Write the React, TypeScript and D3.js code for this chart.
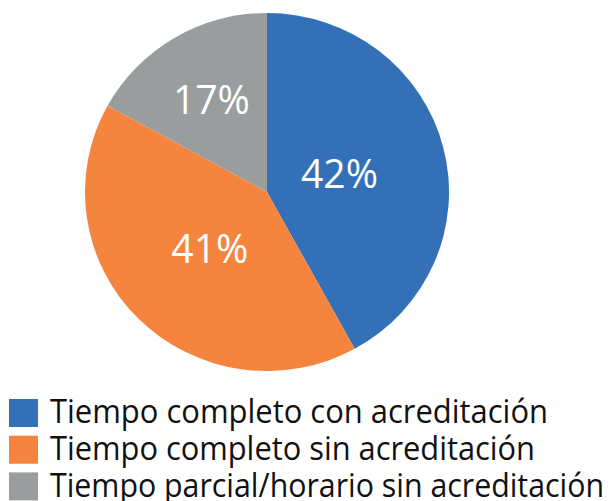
import React from "react";
import * as d3 from "d3";

const categories = [
  "Tiempo completo con acreditación",
  "Tiempo completo sin acreditación",
  "Tiempo parcial/horario sin acreditación",
];
const values = [42, 41, 17];
const colors = ["#3470B7", "#F5843F", "#9A9D9E"];
const labelRadius = [74, 80, 108];
const legendWidths = [498, 485, 554];

export default function App() {
  const W = 613;
  const H = 501;
  const cx = 267;
  const cy = 192;
  const r = 180;
  const sx = 182 / 180;
  const sy = 179 / 180;

  const pie = d3.pie<number>().sort(null).value((d) => d)(values);
  const arc = d3.arc<d3.PieArcDatum<number>>().innerRadius(0).outerRadius(r);

  return (
    <svg
      width={W}
      height={H}
      style={{ position: "absolute", left: 0, top: 0, background: "#fff" }}
      fontFamily="'Open Sans', 'Noto Sans', sans-serif"
    >
      <g transform={`translate(${cx},${cy}) scale(${sx},${sy})`}>
        {pie.map((p, i) => (
          <path key={i} d={arc(p) || ""} fill={colors[i]} />
        ))}
      </g>
      <g transform={`translate(${cx},${cy})`}>
        {pie.map((p, i) => {
          const a = (p.startAngle + p.endAngle) / 2;
          const x = Math.sin(a) * labelRadius[i] * sx;
          const y = -Math.cos(a) * labelRadius[i] * sy;
          return (
            <text
              key={i}
              x={x}
              y={y}
              dy="0.36em"
              textAnchor="middle"
              fill="#fff"
              fontSize={40}
              textLength={77}
              lengthAdjust="spacingAndGlyphs"
            >
              {`${values[i]}%`}
            </text>
          );
        })}
      </g>
      <g>
        {categories.map((c, i) => (
          <g key={i} transform={`translate(9,${399 + i * 36.7})`}>
            <rect width={29} height={28} fill={colors[i]} />
            <text
              x={41}
              y={24.3}
              fontSize={32}
              fill="#111"
              textLength={legendWidths[i]}
              lengthAdjust="spacingAndGlyphs"
            >
              {c}
            </text>
          </g>
        ))}
      </g>
    </svg>
  );
}
